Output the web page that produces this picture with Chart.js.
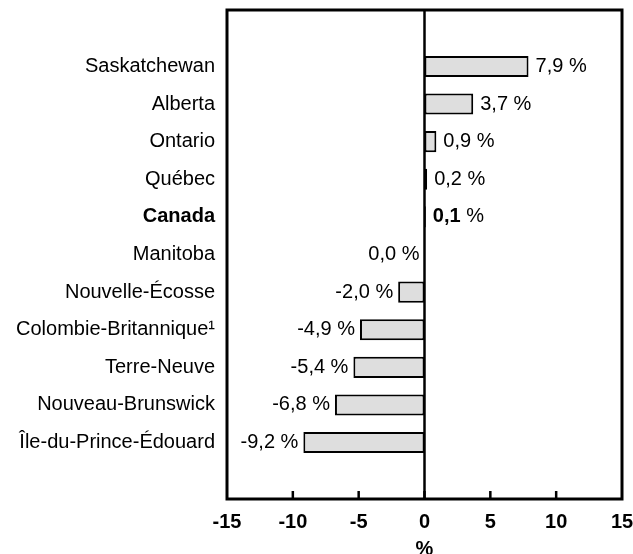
<!DOCTYPE html>
<html>
<head>
<meta charset="utf-8">
<script src="https://cdn.jsdelivr.net/npm/chart.js@4.4.1/dist/chart.umd.min.js"></script>
<style>
  html, body { margin: 0; padding: 0; background: #fff; }
  #wrap { width: 633px; height: 554px; }
</style>
</head>
<body>
<div id="wrap"><canvas id="c" width="633" height="554"></canvas></div>
<script>
const categories = ['', 'Saskatchewan', 'Alberta', 'Ontario', 'Québec', 'Canada', 'Manitoba',
  'Nouvelle-Écosse', 'Colombie-Britannique¹', 'Terre-Neuve', 'Nouveau-Brunswick',
  'Île-du-Prince-Édouard', ''];
const values = [null, 7.9, 3.7, 0.9, 0.2, 0.1, 0.0, -2.0, -4.9, -5.4, -6.8, -9.2, null];
const valueLabels = ['', '7,9', '3,7', '0,9', '0,2', '0,1', '0,0', '-2,0', '-4,9', '-5,4', '-6,8', '-9,2', ''];
const xTicks = [-15, -10, -5, 0, 5, 10, 15];
const xTitle = '%';
const boldCategory = 'Canada';

const FAMILY = 'Arial, "Liberation Sans", Helvetica, sans-serif';

const framePlugin = {
  id: 'frame',
  afterDatasetsDraw(chart) {
    const ctx = chart.ctx;
    const a = chart.chartArea;
    const xs = chart.scales.x;
    ctx.save();
    ctx.strokeStyle = '#000';
    ctx.lineWidth = 2.5;
    const x0 = xs.getPixelForValue(0);
    ctx.beginPath(); ctx.moveTo(x0, a.top); ctx.lineTo(x0, a.bottom); ctx.stroke();
    xTicks.forEach(v => {
      if (v === xTicks[0] || v === xTicks[xTicks.length - 1]) return;
      const px = xs.getPixelForValue(v);
      ctx.beginPath(); ctx.moveTo(px, a.bottom); ctx.lineTo(px, a.bottom - 8); ctx.stroke();
    });
    ctx.lineWidth = 3;
    ctx.strokeRect(a.left, a.top, a.right - a.left, a.bottom - a.top);
    const meta = chart.getDatasetMeta(0);
    ctx.fillStyle = '#000';
    ctx.textBaseline = 'middle';
    values.forEach((v, i) => {
      if (v === null) return;
      const el = meta.data[i];
      const y = el.y;
      const xEnd = xs.getPixelForValue(v);
      const isBold = categories[i] === boldCategory;
      const numFont = (isBold ? 'bold ' : '') + '20px ' + FAMILY;
      const pctFont = '20px ' + FAMILY;
      ctx.font = numFont;
      const wNum = ctx.measureText(valueLabels[i]).width;
      ctx.font = pctFont;
      const wPct = ctx.measureText(' %').width;
      let xStart;
      if (v > 0) xStart = xEnd + 7;
      else xStart = xEnd - 5 - wNum - wPct;
      ctx.textAlign = 'left';
      ctx.font = numFont;
      ctx.fillText(valueLabels[i], xStart, y);
      ctx.font = pctFont;
      ctx.fillText(' %', xStart + wNum, y);
    });
    ctx.font = 'bold 20px ' + FAMILY;
    ctx.textAlign = 'center';
    ctx.textBaseline = 'alphabetic';
    ctx.fillText(xTitle, x0, 555);
    ctx.restore();
  }
};

function zeroPad(scale) {
  scale.paddingLeft = 0; scale.paddingRight = 0;
  scale.paddingTop = 0; scale.paddingBottom = 0;
}

new Chart(document.getElementById('c'), {
  type: 'bar',
  data: {
    labels: categories,
    datasets: [{
      data: values,
      backgroundColor: '#dedede',
      borderColor: '#000',
      borderWidth: 2,
      borderSkipped: false,
      barPercentage: 0.56,
      categoryPercentage: 1.0
    }]
  },
  options: {
    indexAxis: 'y',
    responsive: false,
    animation: false,
    devicePixelRatio: 1,
    layout: { padding: { top: 10, right: 11, bottom: 0, left: 0 } },
    plugins: { legend: { display: false }, tooltip: { enabled: false } },
    scales: {
      x: {
        type: 'linear',
        min: -15, max: 15,
        afterBuildTicks(scale) { scale.ticks = xTicks.map(v => ({ value: v })); },
        afterFit(scale) { scale.height = 55; zeroPad(scale); },
        grid: { display: false, drawTicks: false },
        border: { display: false },
        ticks: {
          padding: 11,
          color: '#000',
          maxRotation: 0,
          font: { family: FAMILY, size: 20, weight: 'bold' },
          callback: v => String(v)
        }
      },
      y: {
        afterFit(scale) { scale.width = 227; zeroPad(scale); },
        grid: { display: false, drawTicks: false },
        border: { display: false },
        ticks: {
          padding: 12,
          autoSkip: false,
          color: '#000',
          font: (ctx) => ({
            family: FAMILY, size: 20,
            weight: (ctx.tick && ctx.tick.label === boldCategory) ? 'bold' : 'normal'
          })
        }
      }
    }
  },
  plugins: [framePlugin]
});
</script>
</body>
</html>
